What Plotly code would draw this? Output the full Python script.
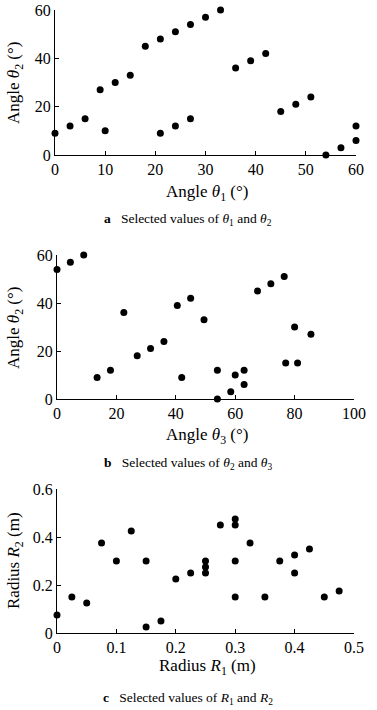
import plotly.graph_objects as go

# Panel a: theta1 vs theta2
theta1_a = [0, 3, 6, 9, 10, 12, 15, 18, 21, 21, 24, 24, 27, 27, 30, 33, 36, 39, 42, 45, 48, 51, 54, 57, 60, 60]
theta2_a = [9, 12, 15, 27, 10, 30, 33, 45, 48, 9, 51, 12, 54, 15, 57, 60, 36, 39, 42, 18, 21, 24, 0, 3, 6, 12]

# Panel b: theta3 vs theta2
theta3_b = [0, 4.5, 9, 13.5, 18, 22.5, 27, 31.5, 36, 40.5, 42, 45, 49.5, 54, 54, 58.5, 60, 63, 63, 67.5, 72, 76.5, 77, 80, 81, 85.5]
theta2_b = [54, 57, 60, 9, 12, 36, 18, 21, 24, 39, 9, 42, 33, 12, 0, 3, 10, 12, 6, 45, 48, 51, 15, 30, 15, 27]

# Panel c: R1 vs R2
r1_c = [0, 0.025, 0.05, 0.075, 0.1, 0.125, 0.15, 0.15, 0.175, 0.2, 0.225, 0.25, 0.25, 0.25, 0.275,
        0.3, 0.3, 0.3, 0.3, 0.325, 0.35, 0.375, 0.4, 0.4, 0.425, 0.45, 0.475]
r2_c = [0.075, 0.15, 0.125, 0.375, 0.3, 0.425, 0.3, 0.025, 0.05, 0.225, 0.25, 0.3, 0.275, 0.25, 0.45,
        0.475, 0.45, 0.3, 0.15, 0.375, 0.15, 0.3, 0.325, 0.25, 0.35, 0.15, 0.175]

x_titles = ["Angle <i>θ</i><sub>1</sub> (°)", "Angle <i>θ</i><sub>3</sub> (°)", "Radius <i>R</i><sub>1</sub> (m)"]
y_titles = ["Angle <i>θ</i><sub>2</sub> (°)", "Angle <i>θ</i><sub>2</sub> (°)", "Radius <i>R</i><sub>2</sub> (m)"]
captions = [
    "<b>a</b>   Selected values of <i>θ</i><sub>1</sub> and <i>θ</i><sub>2</sub>",
    "<b>b</b>   Selected values of <i>θ</i><sub>2</sub> and <i>θ</i><sub>3</sub>",
    "<b>c</b>   Selected values of <i>R</i><sub>1</sub> and <i>R</i><sub>2</sub>",
]

W, H = 377, 710
FONT = "Liberation Serif"

def py(y):
    return 1 - y / H

fig = go.Figure()
marker = dict(color="black", size=7)
fig.add_trace(go.Scatter(x=theta1_a, y=theta2_a, mode="markers", marker=marker, xaxis="x", yaxis="y", cliponaxis=False))
fig.add_trace(go.Scatter(x=theta3_b, y=theta2_b, mode="markers", marker=marker, xaxis="x2", yaxis="y2", cliponaxis=False))
fig.add_trace(go.Scatter(x=r1_c, y=r2_c, mode="markers", marker=marker, xaxis="x3", yaxis="y3", cliponaxis=False))

ax_common = dict(showline=True, linecolor="black", linewidth=1.3, ticks="inside", ticklen=4,
                 tickcolor="black", showgrid=False, zeroline=False, mirror=False, automargin=False,
                 tickfont=dict(family=FONT, size=16, color="black"))

fig.update_layout(
    width=W, height=H, margin=dict(l=0, r=0, t=0, b=0),
    paper_bgcolor="white", plot_bgcolor="white", showlegend=False,
    font=dict(family=FONT, color="black"),
    xaxis=dict(domain=[55 / W, 356 / W], range=[0, 60], dtick=10, anchor="y", **ax_common),
    yaxis=dict(domain=[py(155), py(10)], range=[0, 60], dtick=20, anchor="x", **ax_common),
    xaxis2=dict(domain=[57 / W, 354 / W], range=[0, 100], dtick=20, anchor="y2", **ax_common),
    yaxis2=dict(domain=[py(399), py(255)], range=[0, 60], dtick=20, anchor="x2", **ax_common),
    xaxis3=dict(domain=[57 / W, 354 / W], range=[0, 0.5], dtick=0.1, anchor="y3", **ax_common),
    yaxis3=dict(domain=[py(633), py(489)], range=[0, 0.6], dtick=0.2, anchor="x3", **ax_common),
)

xt_y = [193, 436, 667]
yt_y = [83, 328, 561]
cap_y = [219, 463, 698]
for i in range(3):
    fig.add_annotation(text=x_titles[i], x=207 / W, y=py(xt_y[i]), xref="paper", yref="paper",
                       showarrow=False, xanchor="center", yanchor="middle",
                       font=dict(family=FONT, size=17, color="black"))
    fig.add_annotation(text=y_titles[i], x=15 / W, y=py(yt_y[i]), xref="paper", yref="paper",
                       showarrow=False, xanchor="center", yanchor="middle", textangle=-90,
                       font=dict(family=FONT, size=17, color="black"))
    fig.add_annotation(text=captions[i], x=188 / W, y=py(cap_y[i]), xref="paper", yref="paper",
                       showarrow=False, xanchor="center", yanchor="middle",
                       font=dict(family=FONT, size=13.5, color="black"))

fig.write_html("out.html", config={"displayModeBar": False},
               post_script="document.body.style.margin='0';document.body.style.padding='0';document.body.style.overflow='hidden';")
